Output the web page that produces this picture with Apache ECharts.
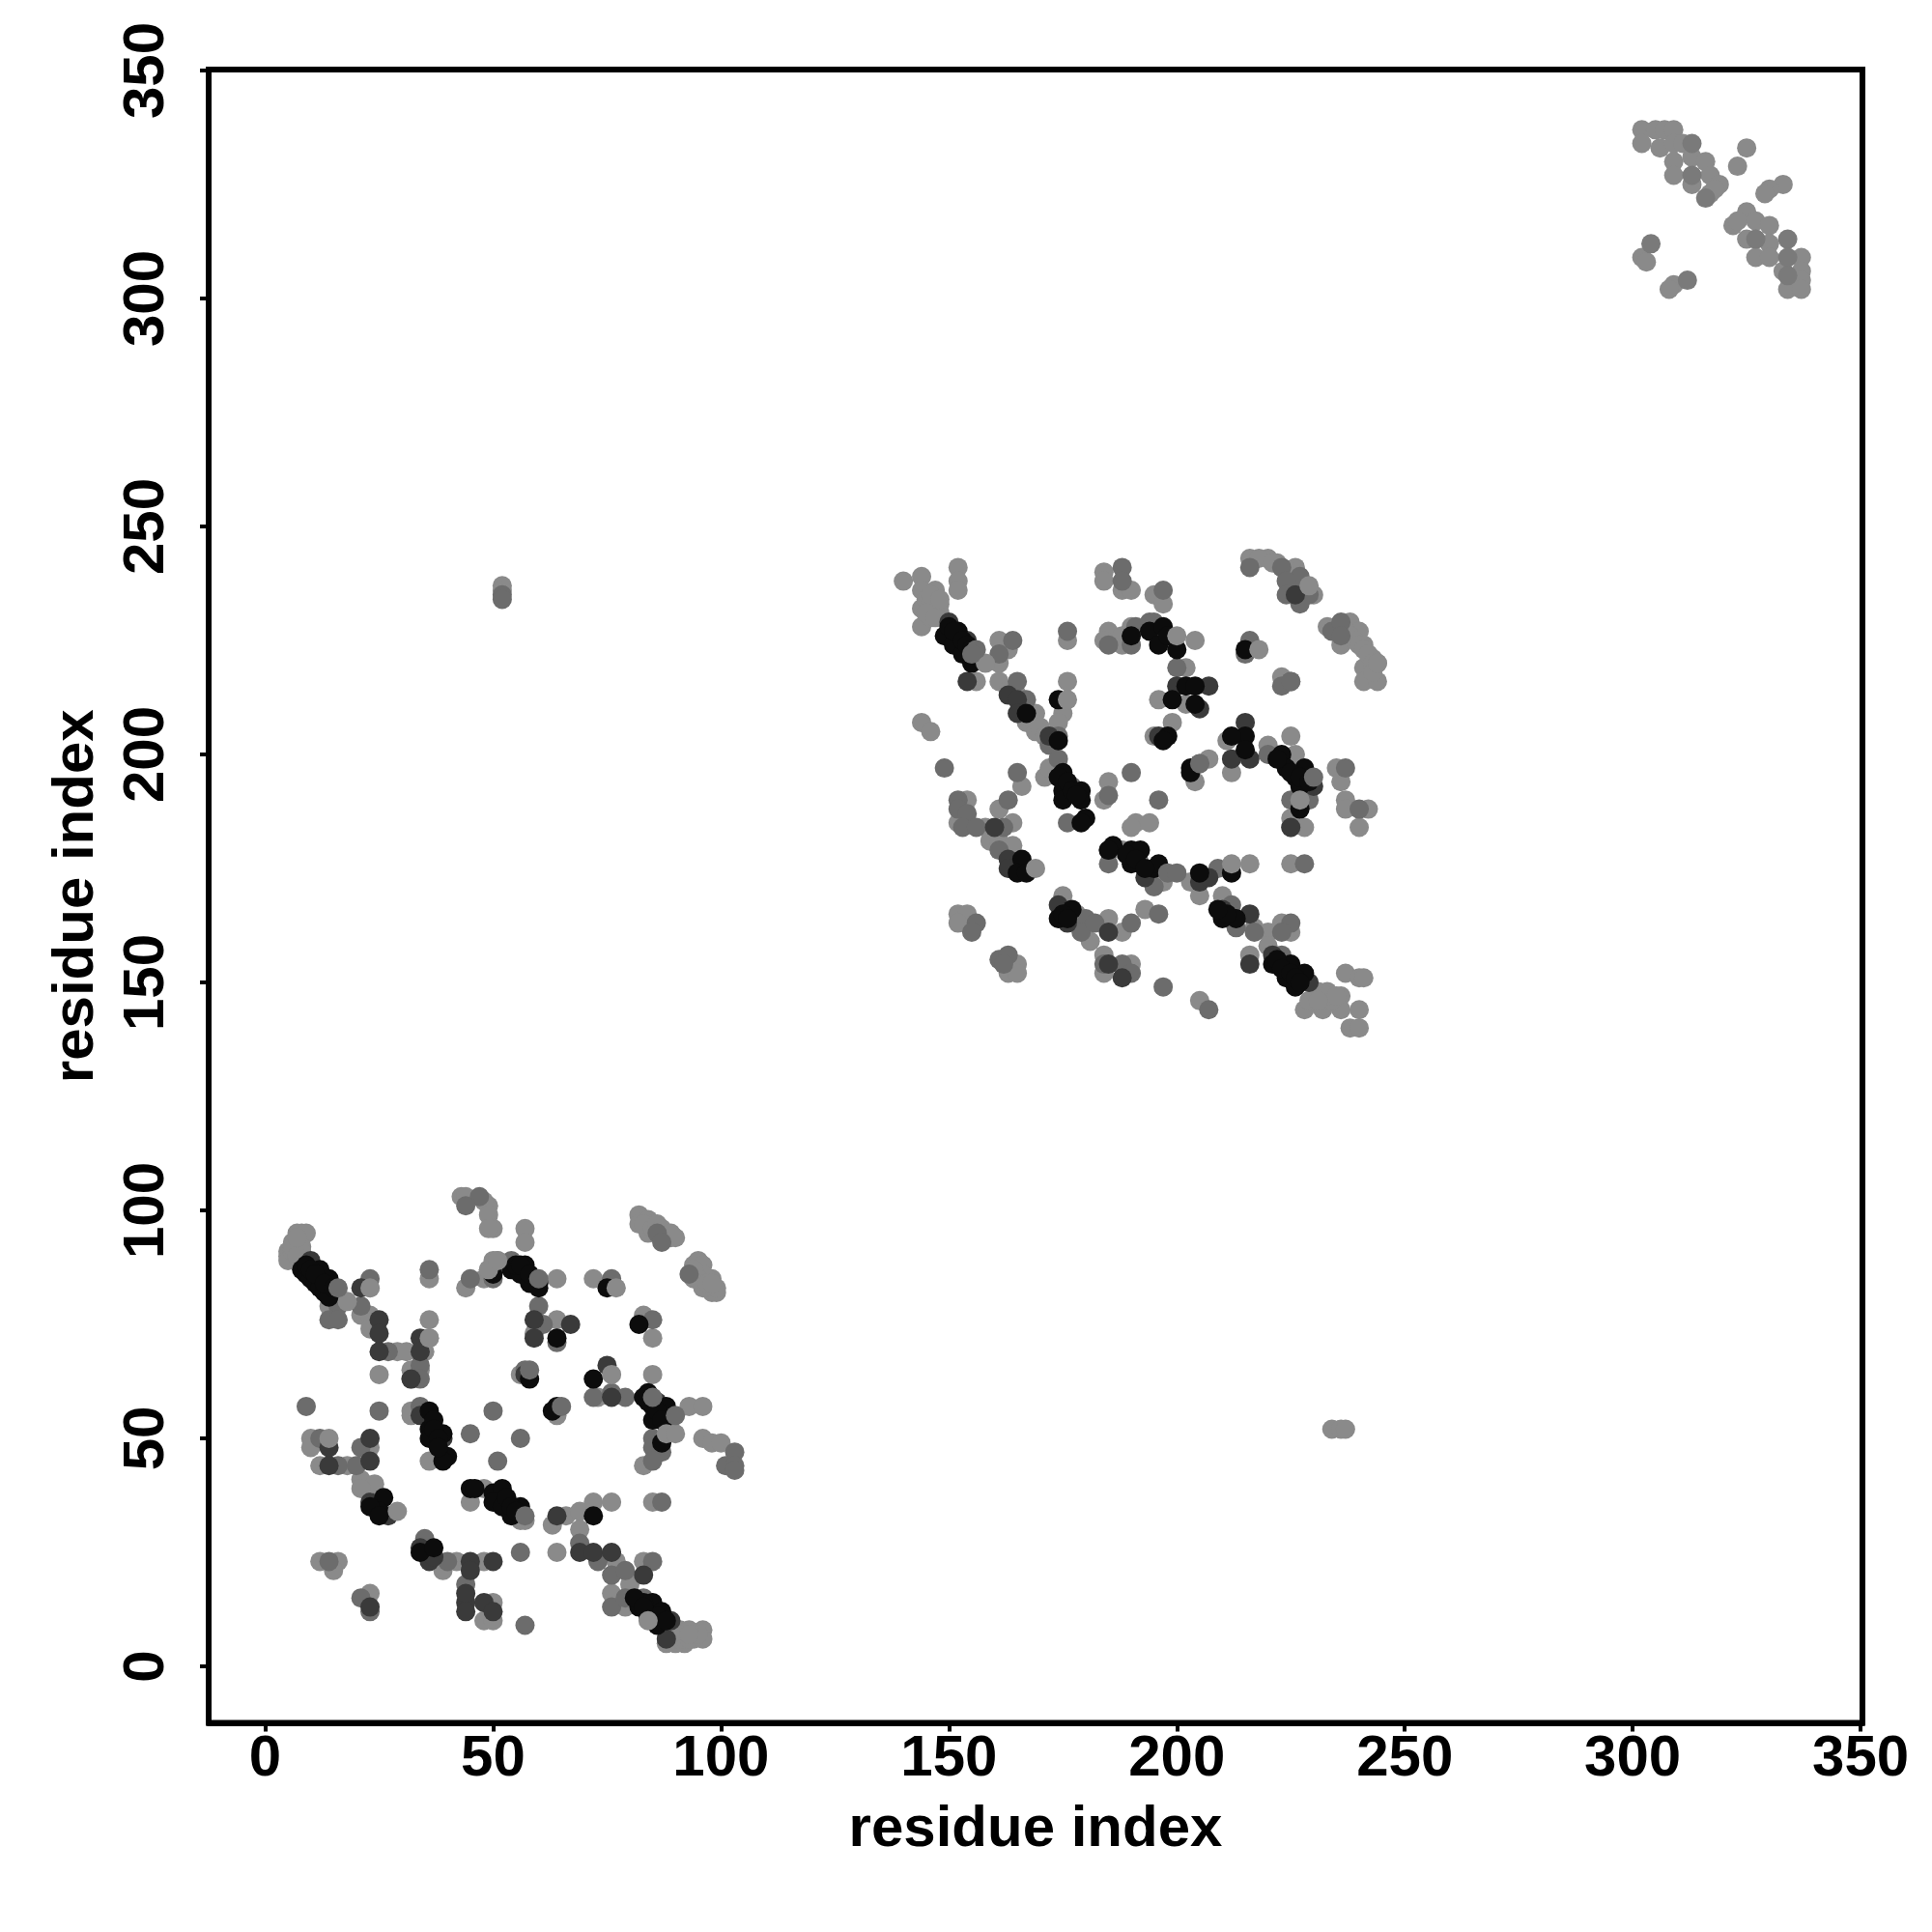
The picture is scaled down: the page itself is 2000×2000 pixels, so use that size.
<!DOCTYPE html>
<html><head><meta charset="utf-8">
<script src="https://cdn.jsdelivr.net/npm/echarts@6/dist/echarts.min.js"></script>
<style>html,body{margin:0;padding:0;background:#fff}#c{width:2000px;height:2000px}</style>
</head><body><div id="c"></div>
<script>
const tickValues = [0, 50, 100, 150, 200, 250, 300, 350];
const axisName = 'residue index';

const lightPts = [
[7,95],[8,95],[9,95],[5,91],[5,90],[5,89],[6,93],[7,92],[8,92],[8,91],[6,91],[6,92],[7,90],[7,94],[14,79],[23,83],[21,77],[23,77],[23,74],[29,69],[31,69],[36,76],[36,72],[35,69],[32,65],[34,65],[32,63],[25,64],[36,85],
[43,103],[44,103],[49,101],[48,102],[49,99],[50,96],[49,96],[57,96],[57,93],[44,83],[48,85],[49,87],[51,89],[50,89],[64,85],[72,85],[59,73],[64,76],[83,77],[85,72],
[82,99],[84,98],[85,97],[82,97],[84,95],[88,95],[89,94],[83,97],[85,96],[86,97],[87,96],[88,94],[89,95],[87,94],[90,94],[95,88],[94,88],[94,85],[98,85],[98,82],[99,82],[96,83],[95,89],[96,88],[97,85],[96,86],[95,85],[94,87],[97,84],[99,83],[98,84],
[56,64],[73,59],[85,64],[64,55],[93,57],[96,57],[32,56],[32,55],[36,45],[83,44],[96,50],[98,49],[100,49],
[10,50],[10,48],[12,44],[18,44],[23,48],[21,41],[24,40],[21,39],[45,36],[48,39],[56,32],[57,32],[63,31],[66,33],[69,34],[72,36],[76,36],[85,36],[69,30],[64,25],[77,23],[80,18],[83,23],
[39,21],[42,23],[48,23],[50,14],[48,10],[50,10],[12,23],[16,23],[15,21],[23,16],[76,16],[79,13],[90,7],[92,7],[96,8],[96,6],[94,6],[92,5],[88,5],[90,5],[90,6],[91,6],[92,6],[93,6],[94,7],[95,7],[89,7],[91,8],[93,8],
[52,237],[52,236],[234,52],[236,52],[237,52],
[140,238],[144,239],[152,241],[152,238],[152,236],[147,236],[144,236],[144,232],[148,233],[144,228],[146,230],[148,231],[145,234],[146,233],[147,232],[146,235],[145,231],[147,230],[148,234],[161,225],[163,223],[161,220],[156,216],[161,216],[169,209],[167,207],[169,205],[172,204],[176,216],[175,209],[174,207],[176,225],[144,207],[146,205],[163,214],[165,213],[167,210],[168,208],[170,206],[171,204],
[184,240],[184,238],[188,236],[190,236],[195,235],[197,233],[185,227],[184,225],[188,226],[188,224],[190,228],[204,225],[223,217],[202,219],[200,215],[196,212],[202,211],[199,207],[195,204],[211,203],[220,202],[212,196],[225,204],[207,199],[204,194],
[226,200],[227,190],[228,184],[225,186],[225,184],[235,197],[236,194],[237,190],[237,188],[242,188],[240,184],
[216,243],[220,243],[222,242],[226,241],[218,243],[221,242],[223,241],[225,240],[226,239],[227,238],[228,237],[229,236],[230,235],[238,229],[240,227],[236,224],[241,224],[243,221],[244,220],[241,219],[241,216],[244,216],[233,228],[235,228],[237,227],[238,226],[239,225],[240,224],[241,223],[242,222],[243,220],[243,218],
[166,193],[161,188],[154,190],[152,185],[158,184],[164,185],[159,181],[161,181],[164,180],[171,195],[172,197],[184,190],[185,194],[191,185],[194,185],[190,184],
[188,179],[195,171],[197,172],[203,172],[205,169],[216,176],[225,176],[210,169],[217,162],[220,161],[220,158],[223,163],[225,161],[216,156],
[231,148],[233,148],[236,147],[237,152],[240,151],[241,151],[228,144],[232,144],[236,144],[240,144],[238,140],[240,140],[229,146],[232,146],[234,146],[233,147],[235,147],[231,146],
[152,165],[154,165],[152,163],[165,154],[163,152],[165,152],[175,169],[178,165],[181,159],[185,164],[188,161],[193,166],[184,156],[190,154],[184,152],[205,146],
[302,337],[305,337],[307,337],[309,337],[302,334],[306,333],[309,334],[311,334],[309,330],[313,331],[316,330],[309,327],[313,325],[317,327],[319,325],[317,323],[318,324],[325,333],[323,329],[333,325],[330,324],[329,323],
[325,319],[322,316],[323,317],[327,317],[330,316],[325,313],[330,312],[327,309],[330,309],[337,309],[333,306],[337,306],[337,304],[334,302],[337,302],[302,309],[303,308],[309,303],[308,302]
];
const softPts = [
[304,312],[316,322],[313,327],[313,334],[327,313],[334,313],[334,309],[334,305],[312,304]
];
const midPts = [
[16,79],[14,76],[16,76],[23,85],[21,79],[27,69],[34,66],[34,63],[36,87],[47,103],[44,101],[45,85],[50,85],[54,89],[60,79],[61,75],[64,71],[76,85],[85,76],[86,95],[87,93],[93,86],
[57,65],[76,60],[72,59],[79,59],[25,56],[34,57],[50,56],[45,51],[56,50],[51,45],[85,50],[87,47],[85,48],[85,45],[103,47],[101,44],[103,44],[103,43],
[12,50],[16,44],[20,44],[21,48],[57,9],[87,36],[69,27],[73,23],[76,20],[79,21],[85,23],[56,25],[35,28],[40,23],[44,18],[14,23],[21,15],[23,12],[76,13],[79,15],[83,15],
[52,235],[52,234],[9,57],
[165,216],[167,212],[161,222],[164,225],[172,202],[174,204],[176,227],[149,197],[188,241],[188,238],[197,236],[185,224],[190,224],[191,228],[194,229],[195,229],[216,225],[215,222],[225,216],[223,215],[200,219],
[220,200],[205,198],[229,190],[225,190],[237,197],[240,188],[216,241],[223,241],[227,239],[224,238],[229,235],[224,235],[227,233],[234,227],[236,229],[236,226],
[165,196],[163,190],[152,190],[152,188],[154,187],[153,184],[156,184],[162,184],[161,179],[174,199],[177,193],[185,191],[190,196],[196,190],[176,185],[185,176],[192,176],[195,171],[209,175],[228,176],[212,167],[213,162],[217,161],[225,163],[223,161],
[223,156],[156,163],[155,161],[161,155],[163,156],[162,154],[180,164],[179,161],[182,163],[190,163],[196,165],[184,154],[188,154],[190,152],[197,149],[207,144]
];
const darkPts = [
[10,89],[21,83],[25,76],[25,73],[25,69],[34,72],[34,69],[32,63],[59,76],[59,72],[67,75],[75,66],[76,59],[86,58],[34,55],[39,50],[23,50],[14,48],[14,44],[23,45],[23,36],[27,33],
[64,33],[69,25],[72,25],[76,25],[83,20],[34,26],[36,23],[37,24],[45,23],[45,21],[50,23],[44,14],[44,16],[44,12],[48,14],[50,12],[23,13],[89,10],[88,6],[57,64],
[150,229],[154,225],[154,216],[163,213],[165,212],[165,209],[172,204],[200,215],[207,215],[205,210],[196,204],[215,207],[212,199],[216,199],[225,184],[230,193],
[226,235],[160,184],[163,177],[163,175],[185,179],[193,173],[205,172],[207,173],[210,166],[216,165],[216,154],[221,156],[229,150],[174,167],[176,163],[185,161],[185,154],[188,151]
];
const blackPts = [
[8,87],[9,86],[10,85],[11,84],[12,83],[13,82],[14,81],[12,87],[14,85],[9,88],[10,87],[11,86],[13,84],[15,83],[54,87],[57,88],[59,85],[60,84],[56,86],[58,84],[50,86],[55,88],[56,88],[58,86],[60,83],[64,72],[82,75],[75,83],
[58,63],[72,63],[83,59],[85,57],[88,57],[85,54],[88,53],[84,58],[86,56],[87,54],[84,60],[64,57],[63,56],[36,56],[36,52],[36,50],[39,51],[40,46],[39,45],[87,49],[37,54],[37,52],[38,50],[38,48],
[26,37],[25,34],[23,35],[25,33],[45,39],[50,38],[52,39],[50,36],[52,35],[56,35],[54,33],[72,33],[46,39],[53,37],[54,35],[55,34],
[34,25],[37,26],[82,13],[85,14],[84,11],[87,12],[86,9],[83,14],[85,11],[86,11],[88,10],[81,15],[83,13],
[152,227],[149,226],[151,224],[153,222],[155,220],[150,228],[151,227],[153,225],[154,224],[155,223],[167,209],[174,212],[174,203],[190,226],[194,227],[197,228],[196,224],[198,226],[200,223],[215,223],[202,215],[204,215],[199,212],[204,211],[198,204],[197,203],
[215,204],[212,204],[215,201],[203,197],[203,196],[223,200],[224,197],[228,197],[226,195],[227,193],[227,188],[222,199],[225,196],[227,195],[229,194],[166,177],[165,174],[167,174],
[175,196],[174,195],[175,192],[179,192],[175,190],[179,190],[180,186],[179,185],[176,194],[177,192],[178,191],[186,180],[190,179],[192,179],[190,176],[195,175],[196,176],[185,179],[189,178],[191,177],[193,175],
[205,174],[212,174],[210,164],[213,164],[211,165],[209,166],[221,154],[225,154],[228,152],[224,151],[226,149],[222,155],[223,153],[225,152],[226,151],[227,150],[174,164],[177,166],[175,165],[176,164]
];
const topLightPts = [
[18,80],[23,83],[36,72],[49,87],[77,83],[76,64],[88,51],[90,51],[29,34],[14,50],[84,10],[93,7],[51,89],
[200,226],[218,223],[158,220],[176,212],[169,175],[212,176],[229,237],[244,220],[227,190]
];
const topMidPts = [
[60,85],[90,55],[85,59],[65,57],[57,33],[16,83],[58,65],
[156,223],[155,222],[225,216],[230,195],[198,174],[200,174],[205,198]
];

const levels = [
  [lightPts, '#8a8a8a'], [softPts, '#7a7a7a'], [midPts, '#6c6c6c'], [darkPts, '#3a3a3a'], [blackPts, '#0c0c0c'],
  [topLightPts, '#8a8a8a'], [topMidPts, '#6c6c6c']
];

const fontFamily = '"Liberation Sans", Arial, sans-serif';
function axisBase(extra) {
  return Object.assign({
    type: 'value',
    name: axisName,
    nameLocation: 'middle',
    nameTextStyle: { fontFamily, fontWeight: 'bold', fontSize: 60, color: '#000' },
    axisLine: { show: true, onZero: false, lineStyle: { color: '#000', width: 6 } },
    splitLine: { show: false },
    axisTick: { show: true, customValues: tickValues, length: 9, lineStyle: { color: '#000', width: 4 } },
  }, extra);
}

const chart = echarts.init(document.getElementById('c'), null, { renderer: 'canvas', width: 2000, height: 2000 });
chart.setOption({
  animation: false,
  backgroundColor: '#fff',
  grid: { left: 216, top: 72, width: 1712, height: 1711.5, show: true, borderColor: '#000', borderWidth: 6, backgroundColor: 'transparent' },
  xAxis: axisBase({
    min: -12.4, max: 350.4, nameGap: 81,
    axisLabel: { customValues: tickValues, margin: 8, fontFamily, fontWeight: 'bold', fontSize: 60, color: '#000', hideOverlap: false, showMinLabel: true, showMaxLabel: true }
  }),
  yAxis: axisBase({
    min: -12.4, max: 350.2, nameGap: 107,
    axisLabel: { customValues: tickValues, rotate: 90, margin: 64, fontFamily, fontWeight: 'bold', fontSize: 60, color: '#000', hideOverlap: false, align: 'center', verticalAlign: 'middle', showMinLabel: true, showMaxLabel: true }
  }),
  series: levels.map(([pts, color], i) => ({
    type: 'scatter', data: pts, symbol: 'circle', symbolSize: 20, z: 2 + i, clip: false,
    itemStyle: { color, opacity: 1, borderWidth: 0 }, silent: true, large: false
  }))
});
</script></body></html>
